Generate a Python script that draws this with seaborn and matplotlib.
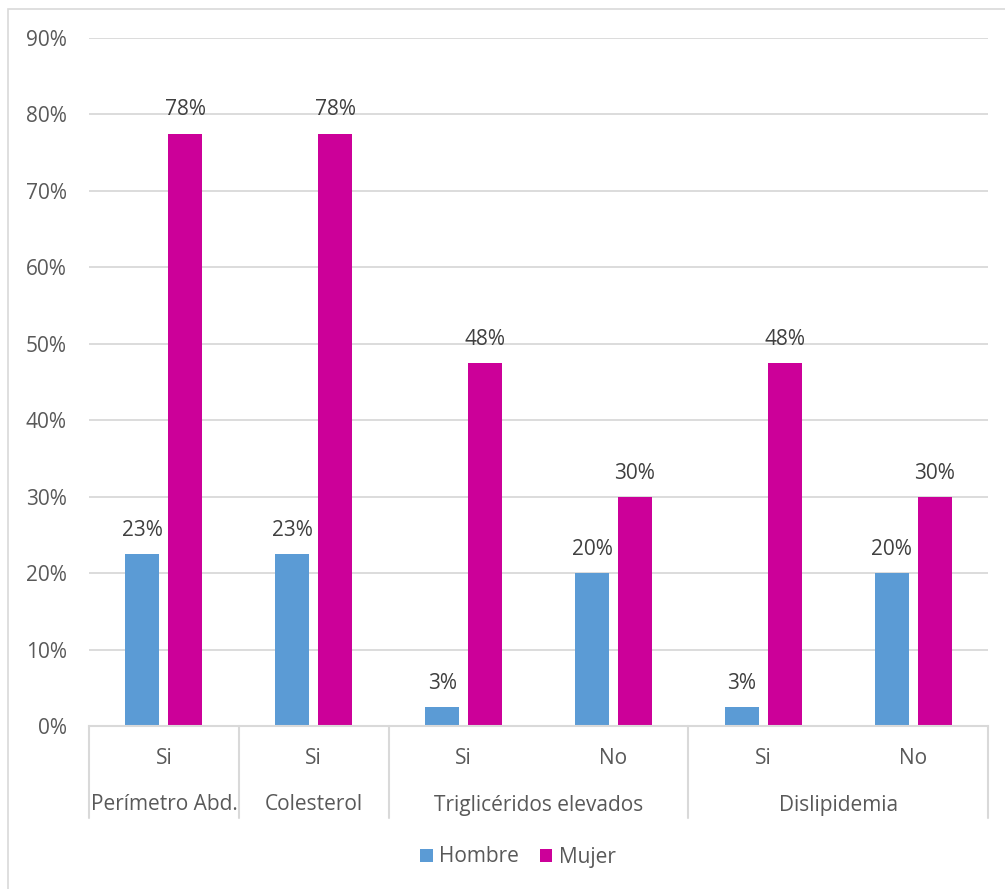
import numpy as np
import pandas as pd
import matplotlib
matplotlib.use("Agg")
import matplotlib.pyplot as plt
import matplotlib.transforms as mtransforms
from matplotlib.patches import Rectangle, Patch
import seaborn as sns

# ---- data ----
groups = ["Perímetro Abd.", "Colesterol", "Triglicéridos elevados", "Triglicéridos elevados", "Dislipidemia", "Dislipidemia"]
answers = ["Si", "Si", "Si", "No", "Si", "No"]
hombre = [22.5, 22.5, 2.5, 20.0, 2.5, 20.0]
mujer = [77.5, 77.5, 47.5, 30.0, 47.5, 30.0]
series = ["Hombre", "Mujer"]
y_ticks = [0, 10, 20, 30, 40, 50, 60, 70, 80, 90]

colors = {"Hombre": "#5B9BD5", "Mujer": "#CC0099"}
text_col = "#595959"
grid_col = "#D9D9D9"
FS = 15

rows = []
for i in range(len(answers)):
    rows.append({"pos": i, "serie": "Hombre", "val": hombre[i]})
    rows.append({"pos": i, "serie": "Mujer", "val": mujer[i]})
df = pd.DataFrame(rows)

sns.set_theme(style="white")
plt.rcParams["font.family"] = ["Open Sans", "DejaVu Sans"]

fig = plt.figure(figsize=(10.05, 8.89), dpi=100)
W, H = 1005, 889
ax = fig.add_axes([89 / W, 1 - 726 / H, (988 - 89) / W, (726 - 38) / H])

sns.barplot(data=df, x="pos", y="val", hue="serie", hue_order=series,
            palette=colors, width=0.573, gap=0.21, ax=ax, legend=False,
            saturation=1, edgecolor="none")

ax.set_xlim(-0.5, len(answers) - 0.5)
ax.set_ylim(0, 90)
ax.set_yticks(y_ticks)
ax.set_yticklabels([f"{t}%" for t in y_ticks], fontsize=FS, color=text_col)
ax.tick_params(axis="y", length=0, pad=16)
ax.set_xticks([])
ax.set_xlabel("")
ax.set_ylabel("")
ax.yaxis.grid(True, color=grid_col, linewidth=1.3)
ax.set_axisbelow(True)
for s in ["top", "right", "left"]:
    ax.spines[s].set_visible(False)
ax.spines["bottom"].set_color(grid_col)
ax.spines["bottom"].set_linewidth(1.5)

# data labels
for cont in ax.containers:
    for bar in cont:
        h = bar.get_height()
        ax.annotate(f"{int(np.floor(h + 0.5))}%",
                    (bar.get_x() + bar.get_width() / 2, h),
                    xytext=(0, 17), textcoords="offset points",
                    ha="center", va="center", fontsize=FS, color="#404040")

# multi-level x labels
trans = mtransforms.blended_transform_factory(ax.transData, ax.transAxes)
ah = (726 - 38)
for i, a in enumerate(answers):
    ax.text(i, -32 / ah, a, transform=trans, ha="center", va="center",
            fontsize=FS, color=text_col)

spans = []
start = 0
for i in range(1, len(groups) + 1):
    if i == len(groups) or groups[i] != groups[start]:
        spans.append((groups[start], start, i - 1))
        start = i
seps = [-0.5] + [e + 0.5 for _, _, e in spans]
for g, s, e in spans:
    ax.text((s + e) / 2, -79 / ah, g, transform=trans, ha="center", va="center",
            fontsize=FS, color=text_col)
for x in seps:
    ax.plot([x, x], [0, -92 / ah], transform=trans, color=grid_col,
            linewidth=1.5, clip_on=False)

# legend
handles = [Patch(facecolor=colors[s], edgecolor="none", label=s) for s in series]
fig.legend(handles=handles, loc="center", bbox_to_anchor=(518 / W, 1 - 857 / H),
           ncol=2, frameon=False, fontsize=FS, handlelength=0.6,
           handleheight=0.6, handletextpad=0.3, columnspacing=1.0,
           labelcolor=text_col)

# chart border (extends past the right and bottom edges)
fig.patches.append(Rectangle((8 / W, -10 / H), (W + 10) / W, (H + 1) / H,
                             transform=fig.transFigure, fill=False,
                             edgecolor=grid_col, linewidth=1.2))

fig.savefig("out.png", dpi=100, facecolor="white")
